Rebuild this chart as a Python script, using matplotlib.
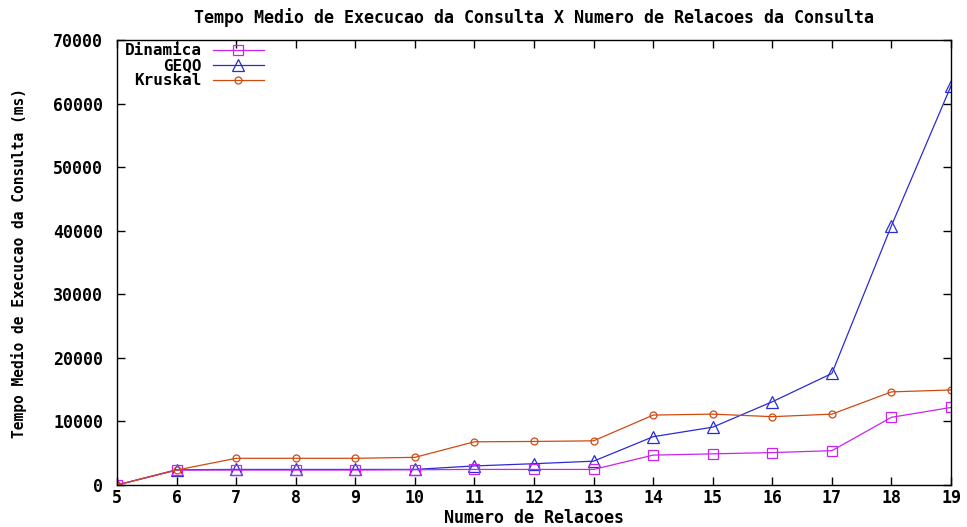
import matplotlib
matplotlib.use('Agg')
import matplotlib.pyplot as plt

# numero de relacoes na consulta
relacoes = [5, 6, 7, 8, 9, 10, 11, 12, 13, 14, 15, 16, 17, 18, 19]

# tempo medio (ms) de cada algoritmo
dinamica = [0, 2350, 2350, 2350, 2350, 2400, 2450, 2450, 2450, 4700, 4900, 5100, 5400, 10650, 12200]
geqo = [0, 2400, 2450, 2450, 2450, 2450, 3000, 3350, 3750, 7600, 9100, 13100, 17550, 40800, 62800]
kruskal = [0, 2350, 4200, 4200, 4200, 4350, 6800, 6850, 6950, 11000, 11150, 10750, 11150, 14650, 14950]

yticks = [0, 10000, 20000, 30000, 40000, 50000, 60000, 70000]

fonte = 'DejaVu Sans Mono'
plt.rcParams['font.family'] = fonte
plt.rcParams['font.weight'] = 'bold'

fig = plt.figure(figsize=(9.67, 5.27), dpi=100)
ax = fig.add_axes([0.121, 0.0797, 0.8625, 0.8443])

l2, = ax.plot(relacoes, geqo, color='#2b2bd6', lw=0.9, marker='^', ms=8.5,
              mfc='none', mec='#2b2bd6', mew=0.9, label='GEQO')
l1, = ax.plot(relacoes, dinamica, color='#cc22ee', lw=0.9, marker='s', ms=7,
              mfc='none', mec='#cc22ee', mew=0.9, label='Dinamica')
l3, = ax.plot(relacoes, kruskal, color='#d04a10', lw=0.9, marker='o', ms=5,
              mfc='none', mec='#d04a10', mew=0.9, label='Kruskal')

ax.set_xlim(5, 19)
ax.set_ylim(0, 70000)
ax.set_xticks(relacoes)
ax.set_yticks(yticks)
ax.tick_params(direction='in', length=6, width=1, top=True, right=True,
               labelsize=12)
ax.tick_params(axis='x', pad=3)
ax.tick_params(axis='y', pad=10)
for s in ax.spines.values():
    s.set_linewidth(1)

ax.set_title('Tempo Medio de Execucao da Consulta X Numero de Relacoes da Consulta',
             fontsize=12, fontweight='bold', pad=12)
ax.set_xlabel('Numero de Relacoes', fontsize=12, fontweight='bold', labelpad=1)
ax.set_ylabel('Tempo Medio de Execucao da Consulta (ms)', fontsize=10.5,
              fontweight='bold', labelpad=19)

ax.legend(handles=[l1, l2, l3], loc='upper left', bbox_to_anchor=(0.009, 0.993),
          frameon=False, markerfirst=False, fontsize=11.5, borderpad=0,
          borderaxespad=0, labelspacing=0.0, handlelength=3.2,
          handletextpad=0.7)

fig.savefig('out.png', dpi=100)
